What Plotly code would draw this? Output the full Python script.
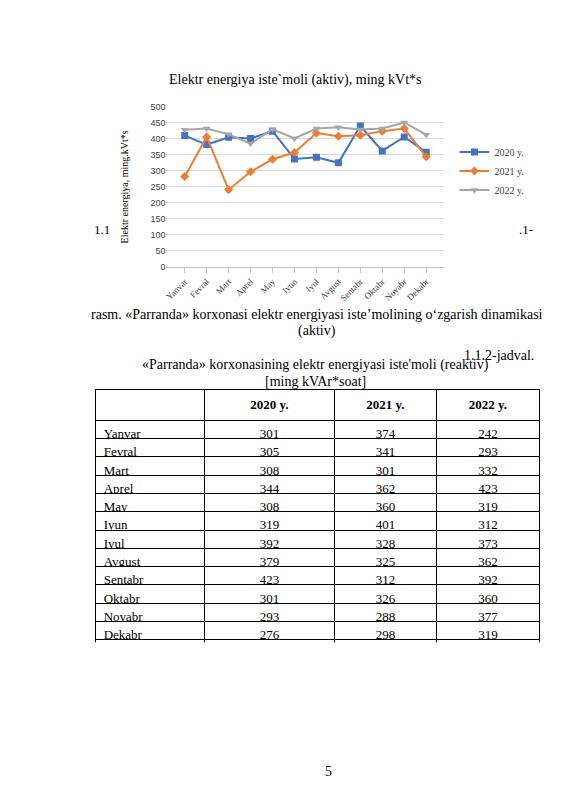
import plotly.graph_objects as go

months = ["Yanvar", "Fevral", "Mart", "Aprel", "May", "Iyun", "Iyul", "Avgust",
          "Sentabr", "Oktabr", "Noyabr", "Dekabr"]
aktiv_2020 = [410, 382, 405, 401, 424, 337, 342, 325, 440, 362, 406, 358]
aktiv_2021 = [282, 406, 241, 297, 336, 357, 418, 408, 411, 424, 432, 344]
aktiv_2022 = [428, 432, 414, 385, 430, 401, 432, 436, 429, 432, 451, 413]

reaktiv_2020 = [301, 305, 308, 344, 308, 319, 392, 379, 423, 301, 293, 276]
reaktiv_2021 = [374, 341, 301, 362, 360, 401, 328, 325, 312, 326, 288, 298]
reaktiv_2022 = [242, 293, 332, 423, 319, 312, 373, 362, 392, 360, 377, 319]
totals = [3948, 4016, 4103]

serif = "Liberation Serif"
fig = go.Figure()

for name, vals, color, sym in [("2020 y.", aktiv_2020, "#4472C4", "square"),
                               ("2021 y.", aktiv_2021, "#ED7D31", "diamond"),
                               ("2022 y.", aktiv_2022, "#A5A5A5", "triangle-down")]:
    fig.add_trace(go.Scatter(x=months, y=vals, name=name, mode="lines+markers",
                             line=dict(color=color, width=2),
                             marker=dict(symbol=sym, size=7, color=color)))

# table; "Jami" pushed right with non-breaking spaces (align is per column only)
first_col = months + ["\u00a0" * 22 + "<b>Jami</b>"]
c20 = [str(v) for v in reaktiv_2020] + [f"<b>{totals[0]}</b>"]
c21 = [str(v) for v in reaktiv_2021] + [f"<b>{totals[1]}</b>"]
c22 = [str(v) for v in reaktiv_2022] + [f"<b>{totals[2]}</b>"]
fig.add_trace(go.Table(
    domain=dict(x=[86/565, 532/565], y=[1-638/800, 1-381/800]),
    columnwidth=[109, 131, 102, 104],
    header=dict(values=["", "<b>2020 y.</b>", "<b>2021 y.</b>", "<b>2022 y.</b>"],
                height=18.3, align="center", line=dict(color="black", width=1),
                fill=dict(color="white"), font=dict(family=serif, size=13, color="black")),
    cells=dict(values=[first_col, c20, c21, c22], height=18.3,
               align=["left", "center", "center", "center"],
               line=dict(color="black", width=1), fill=dict(color="white"),
               font=dict(family=serif, size=13, color="black")),
))

def note(text, x, y, size=14, xanchor="center", **kw):
    fig.add_annotation(text=text, x=x/565, y=1-y/800, xref="paper", yref="paper",
                       showarrow=False, xanchor=xanchor, yanchor="middle",
                       font=dict(family=serif, size=size, color="black"), **kw)

note("Elektr energiya iste`moli (aktiv), ming kVt*s", 286, 68, 14)
note("Elektr energiya, ming.kVt*s", 115, 176, 10, textangle=-90)
note("1.1", 82, 219, 13, xanchor="left")
note(".1-", 527, 219, 13, xanchor="right")
note("rasm. «Parranda» korxonasi elektr energiyasi iste’molining o‘zgarish dinamikasi", 308, 305, 14)
note("(aktiv)", 308, 322, 14)
note("1.1.2-jadval.", 528, 347, 14, xanchor="right")
note("«Parranda» korxonasining elektr energiyasi iste'moli (reaktiv)", 307, 356, 14)
note("[ming kVAr*soat]", 307, 373, 14)
note("5", 320, 768, 14)

fig.update_layout(
    width=565, height=800, margin=dict(l=0, r=0, t=0, b=0),
    paper_bgcolor="white", plot_bgcolor="white",
    font=dict(family=serif, size=10, color="#404040"),
    xaxis=dict(domain=[157/565, 436/565], tickangle=-45, showline=True,
               linecolor="#BFBFBF", ticks="outside", tickcolor="#BFBFBF",
               tickfont=dict(size=9)),
    yaxis=dict(domain=[1-257/800, 1-95/800], range=[0, 500], dtick=50,
               gridcolor="#D9D9D9", zeroline=False, tickfont=dict(family="Liberation Sans", size=9)),
    legend=dict(x=446/565, y=1-160/800, xanchor="left", yanchor="middle",
                font=dict(family=serif, size=10, color="#404040"), bgcolor="rgba(0,0,0,0)"),
)

fig.write_html("out.html")
